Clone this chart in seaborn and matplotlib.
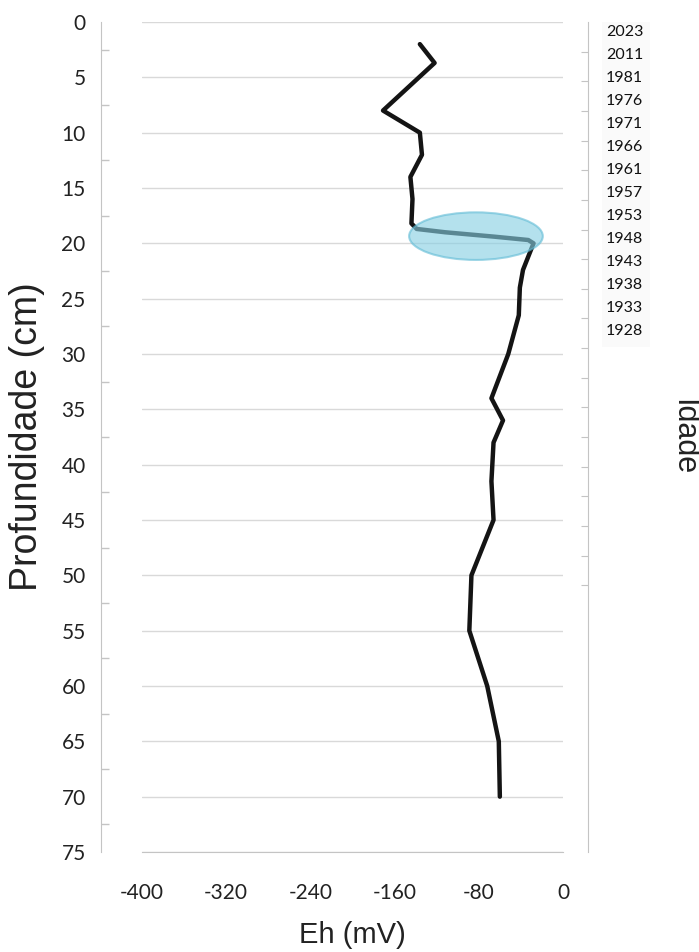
import numpy as np
import pandas as pd
import seaborn as sns
import matplotlib
matplotlib.use('Agg')
import matplotlib.pyplot as plt
from matplotlib.patches import Ellipse, Rectangle
from matplotlib import transforms

# ── data ──────────────────────────────────────────────────────────────────────
depth = [2.0, 3.7, 8.0, 10.0, 12.0, 14.0, 16.0, 18.2, 18.7, 19.0, 19.4, 19.7,
         20.0, 22.4, 24.0, 26.5, 30.0, 34.0, 36.0, 38.0, 41.5, 45.0, 50.0,
         55.0, 60.0, 65.0, 70.0]
eh = [-136, -122, -171, -136, -134, -145, -143, -144, -139, -112, -65, -33,
      -28, -38, -41, -42, -52, -68, -57, -66, -68, -66, -87,
      -89, -72, -61, -60]

years = ['2023', '2011', '1981', '1976', '1971', '1966', '1961', '1957',
         '1953', '1948', '1943', '1938', '1933', '1928']

x_ticks = [-400, -320, -240, -160, -80, 0]
y_ticks = list(range(0, 80, 5))

# highlighted zone (centre eh, centre depth, width mV, height cm)
zone_eh, zone_depth, zone_w, zone_h = -82.7, 19.35, 127, 4.3

df = pd.DataFrame({'eh': eh, 'depth': depth})

# ── style ─────────────────────────────────────────────────────────────────────
sns.set_style('white')
plt.rcParams['font.family'] = ['Liberation Sans', 'DejaVu Sans']
gray = '#C4C4C4'
txt = '#222222'
calib = ['Lato', 'DejaVu Sans']

W, H = 699, 952
fig = plt.figure(figsize=(W / 100, H / 100), dpi=100)
ax = fig.add_axes([142 / W, 1 - 852 / H, 421 / W, 830 / H])

sns.lineplot(data=df, x='eh', y='depth', sort=False, estimator=None,
             color='#141414', lw=3.2, ax=ax, zorder=3)
ax.lines[0].set_solid_joinstyle('round')
ax.lines[0].set_solid_capstyle('round')

ax.add_patch(Ellipse((zone_eh, zone_depth), zone_w, zone_h,
                     facecolor='#86CFE3', edgecolor='#62BCD6', lw=1.5,
                     alpha=0.62, zorder=5))

ax.set_xlim(-400, 0)
ax.set_ylim(75, 0)
ax.set_xticks(x_ticks)
ax.set_xticklabels([str(v) for v in x_ticks])
ax.set_yticks(y_ticks)
ax.set_yticks(np.arange(2.5, 75, 5), minor=True)
ax.set_xlabel('')
ax.set_ylabel('')

ax.yaxis.grid(True, which='major', color='#D9D9D9', lw=1.0)
ax.xaxis.grid(False)

for s in ['top', 'right']:
    ax.spines[s].set_visible(False)
ax.spines['left'].set_position(('outward', 29.5))
ax.spines['left'].set_color(gray)
ax.spines['bottom'].set_color(gray)

ax.tick_params(axis='y', which='major', length=0, pad=11, labelsize=15,
               labelcolor=txt)
ax.tick_params(axis='y', which='minor', direction='in', length=5.5,
               color=gray, width=1)
ax.tick_params(axis='x', which='major', direction='out', length=9,
               color=gray, width=1, pad=13, labelsize=15, labelcolor=txt)
for lab in ax.get_xticklabels() + ax.get_yticklabels():
    lab.set_fontfamily(calib)

# secondary (age) axis on the right
ax2 = ax.twinx()
ax2.set_ylim(28, 0)
ax2.set_yticks(range(1, 20))
ax2.tick_params(axis='y', direction='in', length=5, color=gray,
                labelright=False)
for s in ['left', 'top', 'bottom']:
    ax2.spines[s].set_visible(False)
ax2.spines['right'].set_position(('outward', 18))
ax2.spines['right'].set_color(gray)

# year labels beside the age axis
trans = transforms.blended_transform_factory(ax2.transAxes, ax2.transAxes)
ax2.add_patch(Rectangle((460 / 421, 1 - 325 / 830), 48 / 421, 325 / 830,
                        transform=trans, facecolor='#FAFAFA',
                        edgecolor='none', zorder=0.5, clip_on=False))
year_pos = 1 - (10 + 23 * np.arange(len(years))) / 830
for yr, yp in zip(years, year_pos):
    ax2.text(464 / 421, yp, yr, transform=trans, ha='left', va='center',
             fontsize=11.5, color='#111111', family=calib,
             clip_on=False, zorder=6)

# axis titles
fig.text(27 / W, 1 - 437 / H, 'Profundidade (cm)', rotation=90,
         ha='center', va='center', fontsize=27, color=txt)
fig.text(352 / W, 1 - 935 / H, 'Eh (mV)', ha='center', va='center',
         fontsize=21, color=txt)
fig.text(683 / W, 1 - 437 / H, 'Idade', rotation=270, ha='center',
         va='center', fontsize=22, color=txt)

plt.savefig('out.png', dpi=100)
